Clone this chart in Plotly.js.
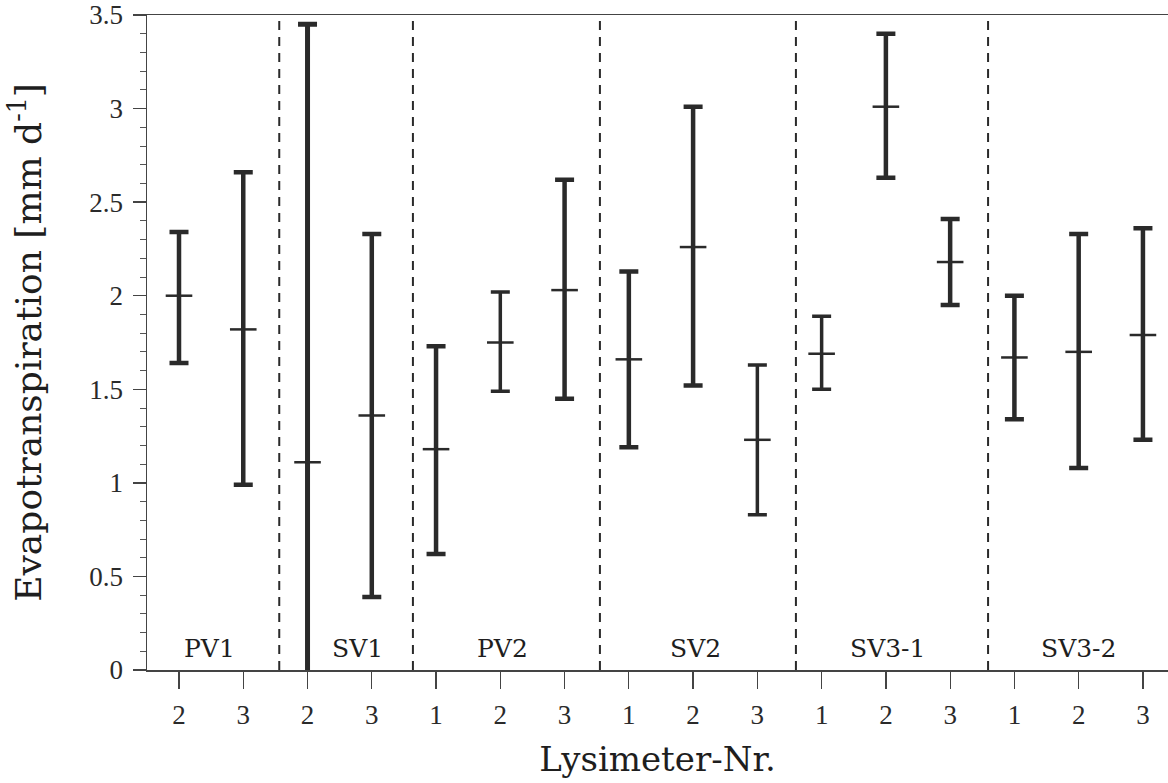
<!DOCTYPE html>
<html>
<head>
<meta charset="utf-8">
<script src="https://cdn.plot.ly/plotly-3.0.1.min.js"></script>
<style>
  html, body { margin: 0; padding: 0; background: #fff; }
  #chart { width: 1168px; height: 783px; }
</style>
</head>
<body>
<div id="chart"></div>
<script>
// ---- data ----
const lysimeterNr = ['2','3','2','3','1','2','3','1','2','3','1','2','3','1','2','3'];
const groupOf     = ['PV1','PV1','SV1','SV1','PV2','PV2','PV2','SV2','SV2','SV2','SV3-1','SV3-1','SV3-1','SV3-2','SV3-2','SV3-2'];
const groupNames  = ['PV1','SV1','PV2','SV2','SV3-1','SV3-2'];
const meanET  = [2.00, 1.82, 1.11, 1.36, 1.18, 1.75, 2.03, 1.66, 2.26, 1.23, 1.69, 3.01, 2.18, 1.67, 1.70, 1.79];
const upperET = [2.34, 2.66, 3.45, 2.33, 1.73, 2.02, 2.62, 2.13, 3.01, 1.63, 1.89, 3.40, 2.41, 2.00, 2.33, 2.36];
// SV1-2 lower end runs below the axis (clipped at 0 in the figure)
const lowerET = [1.64, 0.99, -1.23, 0.39, 0.62, 1.49, 1.45, 1.19, 1.52, 0.83, 1.50, 2.63, 1.95, 1.34, 1.08, 1.23];

// ---- layout / style ----
const xPos = lysimeterNr.map((_, i) => i);
const barThickness = [4.5,4.5,5,4.5,4.5,3.5,4.5,4.5,4.5,3.5,3.5,4.5,4.5,4.5,4.5,4.5];
const separatorX = [1.56, 3.64, 6.55, 9.6, 12.59];
const groupLabelX = [0.48, 2.77, 5.04, 8.03, 11.03, 13.99];
const ink = '#2a2a2a';

const traces = xPos.map((x, i) => ({
  type: 'scatter',
  mode: 'markers',
  x: [x],
  y: [meanET[i]],
  name: groupOf[i] + ' ' + lysimeterNr[i],
  showlegend: false,
  marker: { symbol: 'line-ew', size: 19, color: ink, line: { color: ink, width: 2.5 } },
  error_y: {
    type: 'data', symmetric: false,
    array: [upperET[i] - meanET[i]],
    arrayminus: [meanET[i] - lowerET[i]],
    color: ink, thickness: barThickness[i], width: 9.5
  },
  hoverinfo: 'x+y'
}));

const shapes = separatorX.map(x => ({
  type: 'line', xref: 'x', yref: 'paper', x0: x, x1: x, y0: 0, y1: 1,
  line: { color: ink, width: 2, dash: '9px,7px' }
}));

const annotations = groupNames.map((g, k) => ({
  x: groupLabelX[k], y: 0.115, xref: 'x', yref: 'y',
  text: g, showarrow: false, xanchor: 'center', yanchor: 'middle',
  font: { family: 'DejaVu Serif', size: 25, color: '#1e1e1e' }
}));

const layout = {
  width: 1168, height: 783,
  margin: { l: 147, r: 0, t: 15, b: 113 },
  paper_bgcolor: '#fff', plot_bgcolor: '#fff',
  showlegend: false,
  xaxis: {
    range: [-0.498, 15.39],
    tickmode: 'array', tickvals: xPos, ticktext: lysimeterNr,
    ticks: 'outside', ticklen: 17, tickwidth: 1.3, tickcolor: '#444',
    showline: true, linecolor: '#444', linewidth: 1.5, mirror: true,
    showgrid: false, zeroline: false,
    ticklabelstandoff: 3,
    tickfont: { family: 'Liberation Serif', size: 27, color: '#2a2a2a' },
    title: { text: 'Lysimeter-Nr.', standoff: 18,
             font: { family: 'DejaVu Serif', size: 34, color: '#1e1e1e' } }
  },
  yaxis: {
    range: [0, 3.5], dtick: 0.5, tick0: 0,
    ticks: 'outside', ticklen: 13, tickwidth: 1.3, tickcolor: '#444',
    minor: { dtick: 0.1, ticks: 'outside', ticklen: 6, tickwidth: 1, tickcolor: '#555' },
    showline: true, linecolor: '#444', linewidth: 1.5,
    showgrid: false, zeroline: false,
    ticklabelstandoff: 4,
    tickfont: { family: 'Liberation Serif', size: 27, color: '#2a2a2a' },
    title: { text: 'Evapotranspiration [mm d<sup>-1</sup>]', standoff: 36,
             font: { family: 'DejaVu Serif', size: 36, color: '#1e1e1e' } }
  },
  shapes: shapes,
  annotations: annotations
};

Plotly.newPlot('chart', traces, layout, { displayModeBar: false, staticPlot: true });
</script>
</body>
</html>
